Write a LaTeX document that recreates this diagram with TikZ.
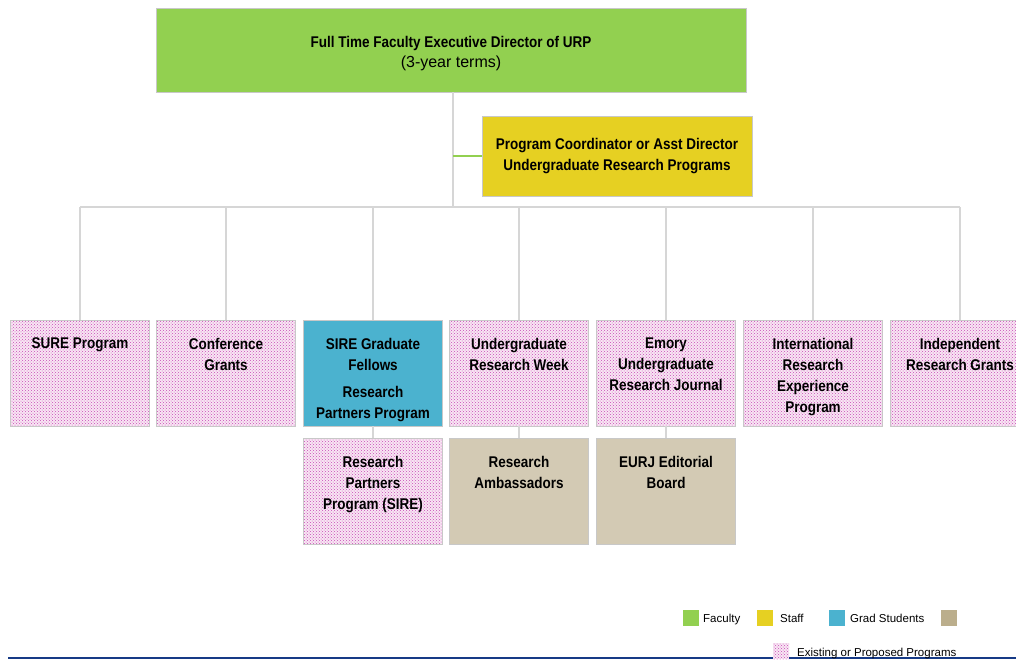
\documentclass[tikz,border=0pt]{standalone}
\usepackage{fontspec}
\setmainfont[FakeStretch=0.87]{Liberation Sans}
\newfontfamily\legendfont{Liberation Sans}
\usetikzlibrary{patterns}
\usetikzlibrary{positioning}
\definecolor{faculty}{HTML}{92D050}
\definecolor{staff}{HTML}{E6D022}
\definecolor{grad}{HTML}{4BB2CF}
\definecolor{tanfill}{HTML}{D3CAB4}
\definecolor{tankey}{HTML}{BBAE8C}
\definecolor{boxline}{HTML}{C8C8C8}
\definecolor{connline}{HTML}{D6D6D6}
\definecolor{dotpink}{HTML}{C94AB8}
\definecolor{dotback}{HTML}{F8E6F3}
\definecolor{ruleblue}{HTML}{163A86}
\tikzset{
unitbox/.style={rectangle,draw=boxline,line width=0.8pt,minimum width=139pt,minimum height=106pt,inner sep=0pt},
progbox/.style={unitbox,preaction={fill=dotback},pattern=crosshatch dots,pattern color=dotpink},
gradbox/.style={unitbox,fill=grad},
tanbox/.style={unitbox,fill=tanfill},
boxtext/.style={anchor=north,align=center,inner sep=0pt,yshift=-18pt,font=\fontsize{15.5}{21}\selectfont\bfseries},
conn/.style={draw=connline,line width=1.5pt},
key/.style={rectangle,minimum size=16pt,inner sep=0pt},
keytext/.style={anchor=base west,inner sep=0pt,font=\legendfont\fontsize{11.5}{13}\selectfont}
}
\begin{document}
\begin{tikzpicture}[x=1pt,y=-1pt]
\useasboundingbox (0,0) rectangle (1016,659);
\node at (451,50)[rectangle,fill=faculty,draw=boxline,line width=0.8pt,minimum width=590pt,minimum height=84pt,align=center,font=\fontsize{15.5}{20}\selectfont](dir){{\rule{0pt}{19pt}\bfseries Full Time Faculty Executive Director of URP}\\{\legendfont\fontsize{16}{20}\selectfont (3-year terms)}};
\node at (617,156)[rectangle,fill=staff,draw=boxline,line width=0.8pt,minimum width=270pt,minimum height=80pt,align=center,font=\fontsize{15.5}{21}\selectfont\bfseries](coord){Program Coordinator or Asst Director\\Undergraduate Research Programs};
\coordinate (bus) at (453,207);
\node at (80,373)[progbox](sure){};
\node at (226,373)[progbox](conf){};
\node at (373,373)[gradbox](sire){};
\node at (519,373)[progbox](urw){};
\node at (666,373)[progbox](eurj){};
\node at (813,373)[progbox](intl){};
\node at (960,373)[progbox](indep){};
\node at (373,491)[progbox](partners){};
\node at (519,491)[tanbox](amb){};
\node at (666,491)[tanbox](board){};
\node at (sure.north)[boxtext](sure-t){SURE Program};
\node at (conf.north)[boxtext](conf-t){Conference\\Grants};
\node at (sire.north)[boxtext](sire-t){SIRE Graduate\\Fellows\\[6pt]Research\\Partners Program};
\node at (urw.north)[boxtext](urw-t){Undergraduate\\Research Week};
\node at (eurj.north)[boxtext](eurj-t){Emory\\Undergraduate\\Research Journal};
\node at (intl.north)[boxtext](intl-t){International\\Research\\Experience\\Program};
\node at (indep.north)[boxtext](indep-t){Independent\\Research Grants};
\node at (partners.north)[boxtext](partners-t){Research\\Partners\\Program (SIRE)};
\node at (amb.north)[boxtext](amb-t){Research\\Ambassadors};
\node at (board.north)[boxtext](board-t){EURJ Editorial\\Board};
\draw[conn] (bus |- dir.south) -- (bus);
\draw[conn] (bus -| sure.north) -- (bus -| indep.north);
\foreach \n in {sure,conf,sire,urw,eurj,intl,indep}
  \draw[conn] (bus -| \n.north) -- (\n.north);
\foreach \a/\b in {sire/partners,urw/amb,eurj/board}
  \draw[conn] (\a.south) -- (\b.north);
\draw[faculty,line width=1.2pt] (bus |- coord.west) -- (coord.west);
\draw[ruleblue,line width=1.4pt] (8,658) -- (1016,658);
\node at (691,618)[key,fill=faculty](k-fac){};
\node at (703,622)[keytext](k-fac-t){Faculty};
\node at (765,618)[key,fill=staff](k-staff){};
\node at (780,622)[keytext](k-staff-t){Staff};
\node at (837,618)[key,fill=grad](k-grad){};
\node at (850,622)[keytext](k-grad-t){Grad Students};
\node at (949,618)[key,fill=tankey](k-tan){};
\node at (781,651)[key,preaction={fill=dotback},pattern=crosshatch dots,pattern color=dotpink](k-prog){};
\node at (797,656)[keytext](k-prog-t){Existing or Proposed Programs};
\end{tikzpicture}
\end{document}
